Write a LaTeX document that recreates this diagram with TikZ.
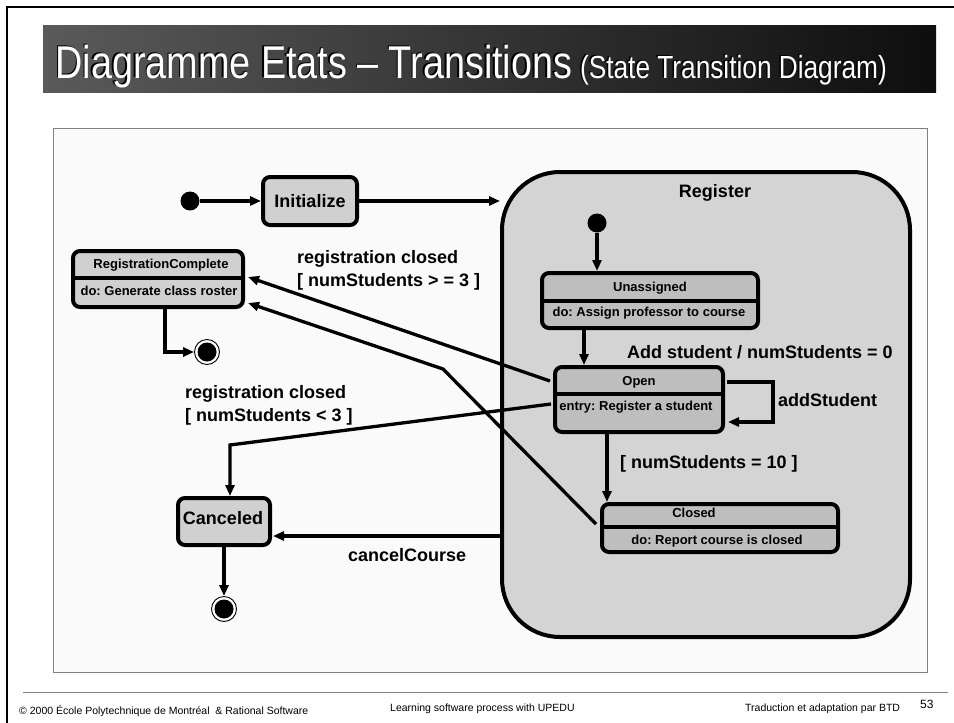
\documentclass[tikz,border=0pt]{standalone}
\usepackage{fontspec}
\setmainfont{Liberation Sans}
\newfontfamily\narrowfont[FakeStretch=0.82,Ligatures=TeX]{Liberation Sans}
\usetikzlibrary{arrows.meta}
\definecolor{panelfill}{HTML}{FAFAFA}
\definecolor{panelline}{HTML}{808080}
\definecolor{regfill}{HTML}{D4D4D4}
\definecolor{outerfill}{HTML}{D0D0D0}
\definecolor{innerfill}{HTML}{BEBEBE}
\definecolor{titleleft}{HTML}{5A5A5A}
\definecolor{titleright}{HTML}{0E0E0E}
\frenchspacing

\begin{document}
\begin{tikzpicture}[x=1pt,y=-1pt,
    lnk/.style={line width=3.3pt,-{Triangle[length=11pt,width=9pt]}},
    outerbox/.style={draw,line width=4pt,rounded corners=7pt,fill=outerfill,inner sep=0pt},
    innerbox/.style={draw,line width=4pt,rounded corners=7pt,fill=innerfill,inner sep=0pt},
    startdot/.style={circle,fill=black,minimum size=19pt,inner sep=0pt},
    enddot/.style={circle,draw=black,line width=0.9pt,fill=white,minimum size=25pt,inner sep=0pt,
        path picture={\fill[black] (path picture bounding box.center) circle (9.5pt);}},
    boxtext/.style={font=\bfseries\fontsize{13}{15}\selectfont,inner sep=0pt},
    bigtext/.style={font=\bfseries\fontsize{18}{22}\selectfont,inner sep=0pt},
    trlabel/.style={font=\bfseries\fontsize{18}{23}\selectfont,align=left,anchor=west,inner sep=0pt},
    titletext/.style={anchor=base west,inner sep=0pt,font=\narrowfont},
    foot/.style={font=\fontsize{10.5}{12}\selectfont,anchor=west,inner sep=0pt}]
    \useasboundingbox (0,0) rectangle (954,723);
    % Rahmen:
    \draw[line width=2.5pt] (7,723) -- (7,7) -- (954,7);
    % Titelband:
    \shade[left color=titleleft,right color=titleright] (43,25) rectangle (936,92);
    \node[titletext,text=black] (titleshadow) at (54,77)
        {{\fontsize{46}{50}\selectfont Diagramme Etats – Transitions}\hspace{8pt}{\fontsize{32}{34}\selectfont (State Transition Diagram)}};
    \node[titletext,text=white] (title) at (55.5,78)
        {{\fontsize{46}{50}\selectfont Diagramme Etats – Transitions}\hspace{8pt}{\fontsize{32}{34}\selectfont (State Transition Diagram)}};
    % Zeichenflaeche:
    \draw[panelline,fill=panelfill,line width=1pt] (53,128) rectangle (927,672);

    % Register (Oberzustand)
    \node[draw,line width=4pt,fill=regfill,rounded corners=58pt,minimum width=408,minimum height=465] (reg) at (706,404.5) {};
    \node[bigtext] (regname) at (715,193) {Register};

    % Zustaende aussen
    \node[startdot] (start) at (190,201) {};
    \node[outerbox,minimum width=94,minimum height=48] (init) at (310,201) {};
    \node[bigtext] (initname) at (init) {Initialize};
    \node[outerbox,minimum width=170,minimum height=56] (regc) at (158,279) {};
    \draw[line width=3.5pt] (regc.west |- 0,278) -- (regc.east |- 0,278); % Trennstrich
    \node[boxtext] (regcname) at (161,265) {RegistrationComplete};
    \node[boxtext] (regcdo) at (159,291) {do: Generate class roster};
    \node[enddot] (end1) at (207,352) {};
    \node[outerbox,minimum width=92,minimum height=47] (canc) at (224,521.5) {};
    \node[bigtext] (cancname) at (223,518) {Canceled};
    \node[enddot] (end2) at (224,609) {};

    % Zustaende innen
    \node[startdot] (rstart) at (597,223) {};
    \node[innerbox,minimum width=216,minimum height=55] (unas) at (650,300.5) {};
    \draw[line width=3.5pt] (unas.west |- 0,301) -- (unas.east |- 0,301); % Trennstrich
    \node[boxtext] (unasname) at (650,288) {Unassigned};
    \node[boxtext] (unasdo) at (649,313) {do: Assign professor to course};
    \node[innerbox,minimum width=168,minimum height=65] (open) at (639,399.5) {};
    \draw[line width=3.5pt] (open.west |- 0,394) -- (open.east |- 0,394); % Trennstrich
    \node[boxtext] (openname) at (639,382) {Open};
    \node[boxtext] (openentry) at (636,407) {entry: Register a student};
    \node[innerbox,minimum width=236,minimum height=48] (closed) at (720,528) {};
    \draw[line width=3.5pt] (closed.west |- 0,527) -- (closed.east |- 0,527); % Trennstrich
    \node[boxtext] (closedname) at (694,513) {Closed};
    \node[boxtext] (closeddo) at (717,541) {do: Report course is closed};

    % Uebergaenge:
    \draw[lnk] (start) -- (init);
    \draw[lnk] (init.east) -- (init.east -| reg.west);
    \draw[lnk] (rstart) -- (rstart |- unas.north);
    \draw[lnk] ([xshift=-66pt]unas.south) -- ([xshift=-66pt]unas.south |- open.north);
    \draw[lnk] ([xshift=2pt,yshift=17.5pt]open.east) -- ++(46,0) -- ++(0,40) -- ([xshift=3pt,yshift=-22.5pt]open.east); % Schleife
    \draw[lnk] ([xshift=-32pt]open.south) -- ([xshift=-32pt]open.south |- closed.north);
    \draw[lnk] ([xshift=-3pt,yshift=18.5pt]open.west) -- ([xshift=3pt,yshift=2pt]regc.east);
    \coordinate (knick) at (443,369);
    \draw[lnk] ([xshift=-4pt,yshift=4pt]closed.west) -- (knick) -- ([xshift=3pt,yshift=-24pt]regc.east);
    \coordinate (ecke) at (230,445);
    \draw[lnk] ([xshift=-2pt,yshift=-4.5pt]open.west) -- (ecke) -- (ecke |- canc.north);
    \coordinate (cancin) at ([xshift=1pt,yshift=-14.5pt]canc.east);
    \draw[lnk] (reg.west |- cancin) -- (cancin);
    \draw[lnk] (canc) -- (end2);
    \draw[lnk] ([xshift=7pt]regc.south) |- (end1);

    % Beschriftungen:
    \node[trlabel] (lblge) at (297,270.5) {registration closed\\{}[ numStudents > = 3 ]};
    \node[trlabel] (lbllt) at (185,405) {registration closed\\{}[ numStudents < 3 ]};
    \node[trlabel] (lbladd) at (627,352) {Add student / numStudents = 0};
    \node[trlabel] (lblloop) at (778,400) {addStudent};
    \node[trlabel] (lblten) at (620,464) {[ numStudents = 10 ]};
    \node[trlabel] (lblcancel) at (348,555) {cancelCourse};

    % Fusszeile:
    \draw[panelline,line width=1pt] (23,692) -- (948,692);
    \node[foot] (footl) at (19,711) {© 2000 École Polytechnique de Montréal \ \& Rational Software};
    \node[foot] (footm) at (390,709) {Learning software process with UPEDU};
    \node[foot] (footr) at (745,709) {Traduction et adaptation par BTD};
    \node[foot,font=\fontsize{12}{14}\selectfont] (pagenum) at (920,704) {53};
\end{tikzpicture}
\end{document}
